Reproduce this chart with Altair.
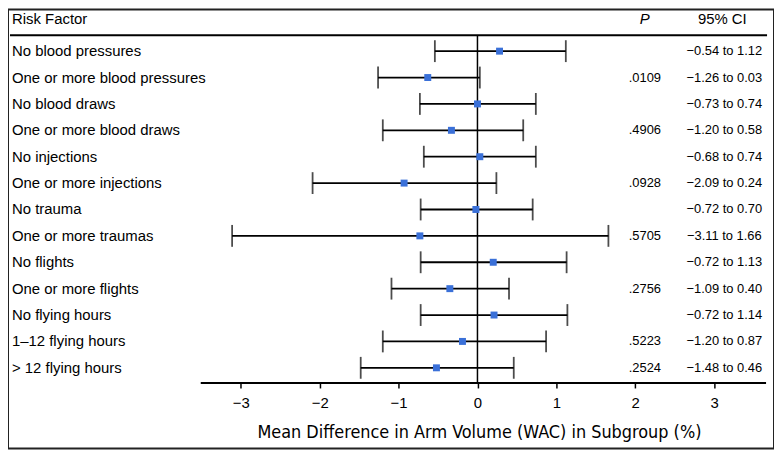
import altair as alt
import pandas as pd

factors = [
    "No blood pressures",
    "One or more blood pressures",
    "No blood draws",
    "One or more blood draws",
    "No injections",
    "One or more injections",
    "No trauma",
    "One or more traumas",
    "No flights",
    "One or more flights",
    "No flying hours",
    "1–12 flying hours",
    "> 12 flying hours",
]
est = [0.28, -0.63, 0.00, -0.33, 0.03, -0.93, -0.02, -0.73, 0.20, -0.35, 0.21, -0.19, -0.52]
lo = [-0.54, -1.26, -0.73, -1.20, -0.68, -2.09, -0.72, -3.11, -0.72, -1.09, -0.72, -1.20, -1.48]
hi = [1.12, 0.03, 0.74, 0.58, 0.74, 0.24, 0.70, 1.66, 1.13, 0.40, 1.14, 0.87, 0.46]
pvals = ["", ".0109", "", ".4906", "", ".0928", "", ".5705", "", ".2756", "", ".5223", ".2524"]
tick_values = [-3, -2, -1, 0, 1, 2, 3]


def fmt(v):
    return f"{v:.2f}".replace("-", "\u2212")


df = pd.DataFrame({
    "factor": factors,
    "est": est,
    "lo": lo,
    "hi": hi,
    "p": pvals,
    "ci": [f"{fmt(a)} to {fmt(b)}" for a, b in zip(lo, hi)],
    "row": list(range(len(factors))),
})

FONT = "Liberation Sans"
W, H = 771, 442

xscale = alt.Scale(domain=[-5.951, 3.759], nice=False, zero=False)
yscale = alt.Scale(domain=[-1.581, 15.06], reverse=True, nice=False, zero=False)
xaxis = alt.Axis(
    values=tick_values, domain=False, grid=False, offset=-66,
    tickSize=5, tickWidth=1.5, tickColor="black",
    labelFont=FONT, labelFontSize=15, labelColor="black", labelPadding=8,
    title="Mean Difference in Arm Volume (WAC) in Subgroup (%)",
    titleFont="DejaVu Sans Condensed, sans-serif",
    titleFontSize=18, titleFontWeight="normal", titleColor="black",
    titleX=474, titleY=55, titleBaseline="alphabetic", titleAnchor="middle", titleAlign="center",
)


def X(field):
    return alt.X(field, type="quantitative", scale=xscale, axis=xaxis)


Y = alt.Y("row:Q", scale=yscale, axis=None)

base = alt.Chart(df)

bars = base.mark_rule(color="black", strokeWidth=1.8).encode(x=X("lo"), x2="hi", y=Y)
cap_lo = base.mark_tick(orient="vertical", size=22, thickness=1.8, color="black").encode(x=X("lo"), y=Y)
cap_hi = base.mark_tick(orient="vertical", size=22, thickness=1.8, color="black").encode(x=X("hi"), y=Y)
squares = base.mark_square(size=49, color="#3a70d8", opacity=1, filled=True).encode(x=X("est"), y=Y)

zero_line = alt.Chart(pd.DataFrame({"z": [0]})).mark_rule(color="black", strokeWidth=1.5).encode(
    x=X("z"), y=alt.value(26), y2=alt.value(376)
)
axis_line = alt.Chart(pd.DataFrame({"a": [0]})).mark_rule(color="black", strokeWidth=2).encode(
    x=alt.value(194), x2=alt.value(763), y=alt.value(376)
)
header_line = alt.Chart(pd.DataFrame({"a": [0]})).mark_rule(color="black", strokeWidth=2).encode(
    x=alt.value(2), x2=alt.value(764), y=alt.value(26)
)

labels = base.mark_text(align="left", baseline="middle", font=FONT, fontSize=15, color="black").encode(
    x=alt.value(4), y=Y, text="factor:N"
)
p_text = base.mark_text(align="center", baseline="middle", font=FONT, fontSize=13, color="black").encode(
    x=alt.value(641), y=Y, text="p:N"
)
ci_text = base.mark_text(align="center", baseline="middle", font=FONT, fontSize=13, color="black").encode(
    x=alt.value(721), y=Y, text="ci:N"
)

hdr = pd.DataFrame({"a": [0]})
h_rf = alt.Chart(hdr).mark_text(text="Risk Factor", align="left", baseline="middle", font=FONT, fontSize=15, color="black").encode(
    x=alt.value(4), y=alt.value(10)
)
h_p = alt.Chart(hdr).mark_text(text="P", align="center", baseline="middle", font=FONT, fontSize=15, fontStyle="italic", color="black").encode(
    x=alt.value(641), y=alt.value(10)
)
h_ci = alt.Chart(hdr).mark_text(text="95% CI", align="center", baseline="middle", font=FONT, fontSize=15, color="black").encode(
    x=alt.value(719), y=alt.value(10)
)

chart = alt.layer(
    header_line, zero_line, axis_line, bars, cap_lo, cap_hi, squares,
    labels, p_text, ci_text, h_rf, h_p, h_ci,
).properties(width=W, height=H, padding=0, background="white").configure_view(
    stroke="#222", strokeWidth=2
)

chart.save("out.html", embed_options={"renderer": "svg", "actions": False})
